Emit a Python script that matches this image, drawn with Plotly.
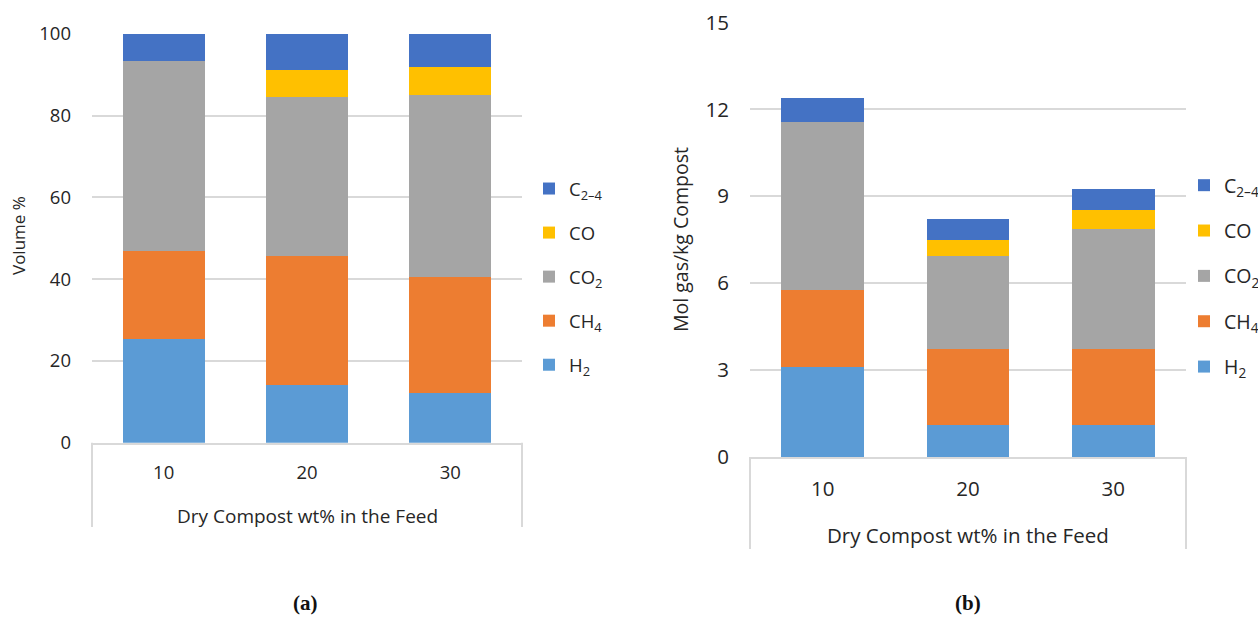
import plotly.graph_objects as go

# Feed composition (dry compost wt% in the feed)
categories = ["10", "20", "30"]

# (a) gas composition, volume %
vol_h2 = [25.3, 14.0, 12.2]
vol_ch4 = [21.6, 31.8, 28.4]
vol_co2 = [46.5, 38.9, 44.5]
vol_co = [0.0, 6.6, 6.8]
vol_c24 = [6.6, 8.7, 8.1]

# (b) gas yield, mol gas / kg compost
mol_h2 = [3.11, 1.12, 1.12]
mol_ch4 = [2.67, 2.61, 2.61]
mol_co2 = [5.78, 3.20, 4.13]
mol_co = [0.00, 0.55, 0.67]
mol_c24 = [0.85, 0.72, 0.72]

species = ["H<sub>2</sub>", "CH<sub>4</sub>", "CO<sub>2</sub>", "CO", "C<sub>2–4</sub>"]
colors = ["#5B9BD5", "#ED7D31", "#A5A5A5", "#FFC000", "#4472C4"]

vol_tick_vals = [0, 20, 40, 60, 80, 100]
mol_tick_vals = [0, 3, 6, 9, 12, 15]

FONT = "Open Sans"
TXT = "#262626"
GRID = "#D9D9D9"

fig = go.Figure()

vol_series = [vol_h2, vol_ch4, vol_co2, vol_co, vol_c24]
mol_series = [mol_h2, mol_ch4, mol_co2, mol_co, mol_c24]
n = len(species)

# First trace sits at the bottom of each stack; legend lists the top segment first
for i, (name, col, vals) in enumerate(zip(species, colors, vol_series)):
    fig.add_trace(go.Bar(
        x=categories, y=vals, name=name, marker=dict(color=col, line=dict(width=0)),
        xaxis="x", yaxis="y", legend="legend", legendgroup=f"a{i}", legendrank=n - i,
    ))
for i, (name, col, vals) in enumerate(zip(species, colors, mol_series)):
    fig.add_trace(go.Bar(
        x=categories, y=vals, name=name, marker=dict(color=col, line=dict(width=0)),
        xaxis="x2", yaxis="y2", legend="legend2", legendgroup=f"b{i}", legendrank=n - i,
    ))

xa_dom = [92 / 1258, 522 / 1258]
xb_dom = [750 / 1258, 1186 / 1258]
ya_dom = [1 - 442.7 / 617, 1 - 34 / 617]
yb_dom = [1 - 457 / 617, 1 - 22.5 / 617]

def x_axis(domain, anchor, size):
    return dict(
        domain=domain, anchor=anchor, type="category", showgrid=False,
        showline=True, linecolor=GRID, linewidth=2, ticks="",
        ticklabelstandoff=12, tickfont=dict(family=FONT, size=size, color=TXT),
        automargin=False,
    )

def y_axis(domain, anchor, rng, vals, size):
    return dict(
        domain=domain, anchor=anchor, range=rng, tickvals=vals,
        showgrid=True, gridcolor=GRID, gridwidth=1.6, zeroline=False, showline=False,
        ticks="", ticklabelstandoff=20, tickfont=dict(family=FONT, size=size, color=TXT),
        automargin=False,
    )

def legend_at(x_px, y_px, size):
    return dict(
        x=x_px / 1258, y=1 - y_px / 617, xanchor="left", yanchor="top",
        font=dict(family=FONT, size=size, color=TXT), traceorder="grouped",
        tracegroupgap=17, bgcolor="rgba(0,0,0,0)",
    )

fig.update_layout(
    width=1258, height=617,
    margin=dict(l=0, r=0, t=0, b=0, pad=0, autoexpand=False),
    paper_bgcolor="white", plot_bgcolor="white",
    barmode="stack", bargap=0.43,
    xaxis=x_axis(xa_dom, "y", 18.5),
    yaxis=y_axis(ya_dom, "x", [0, 100], vol_tick_vals, 18.5),
    xaxis2=x_axis(xb_dom, "y2", 20.5),
    yaxis2=y_axis(yb_dom, "x2", [0, 15], mol_tick_vals, 20.5),
    legend=legend_at(529, 170, 18.5),
    legend2=legend_at(1184, 166, 19.5),
    showlegend=True,
)

# Category-box side lines below each x axis
for xref, y_bottom, y_top in [("x domain", 1 - 527 / 617, ya_dom[0]),
                              ("x2 domain", 1 - 549 / 617, yb_dom[0])]:
    for xpos in (0, 1):
        fig.add_shape(type="line", xref=xref, yref="paper", x0=xpos, x1=xpos,
                      y0=y_bottom, y1=y_top, line=dict(color=GRID, width=2))

# Axis titles
fig.add_annotation(text="Dry Compost wt% in the Feed", xref="paper", yref="paper",
                   x=sum(xa_dom) / 2, y=1 - 516 / 617, showarrow=False,
                   font=dict(family=FONT, size=19, color=TXT), xanchor="center", yanchor="middle")
fig.add_annotation(text="Dry Compost wt% in the Feed", xref="paper", yref="paper",
                   x=sum(xb_dom) / 2, y=1 - 535 / 617, showarrow=False,
                   font=dict(family=FONT, size=20.5, color=TXT), xanchor="center", yanchor="middle")
fig.add_annotation(text="Volume %", xref="paper", yref="paper", textangle=-90,
                   x=18 / 1258, y=1 - 236 / 617, showarrow=False,
                   font=dict(family=FONT, size=17, color=TXT), xanchor="center", yanchor="middle")
fig.add_annotation(text="Mol gas/kg Compost", xref="paper", yref="paper", textangle=-90,
                   x=681 / 1258, y=1 - 240 / 617, showarrow=False,
                   font=dict(family=FONT, size=19.5, color=TXT), xanchor="center", yanchor="middle")

# Panel labels
for label, xc in [("<b>(a)</b>", 305), ("<b>(b)</b>", 968)]:
    fig.add_annotation(text=label, xref="paper", yref="paper", x=xc / 1258, y=1 - 603 / 617,
                       showarrow=False, xanchor="center", yanchor="middle",
                       font=dict(family="Liberation Serif", size=21, color="#111"))

fig.write_html("out.html")
